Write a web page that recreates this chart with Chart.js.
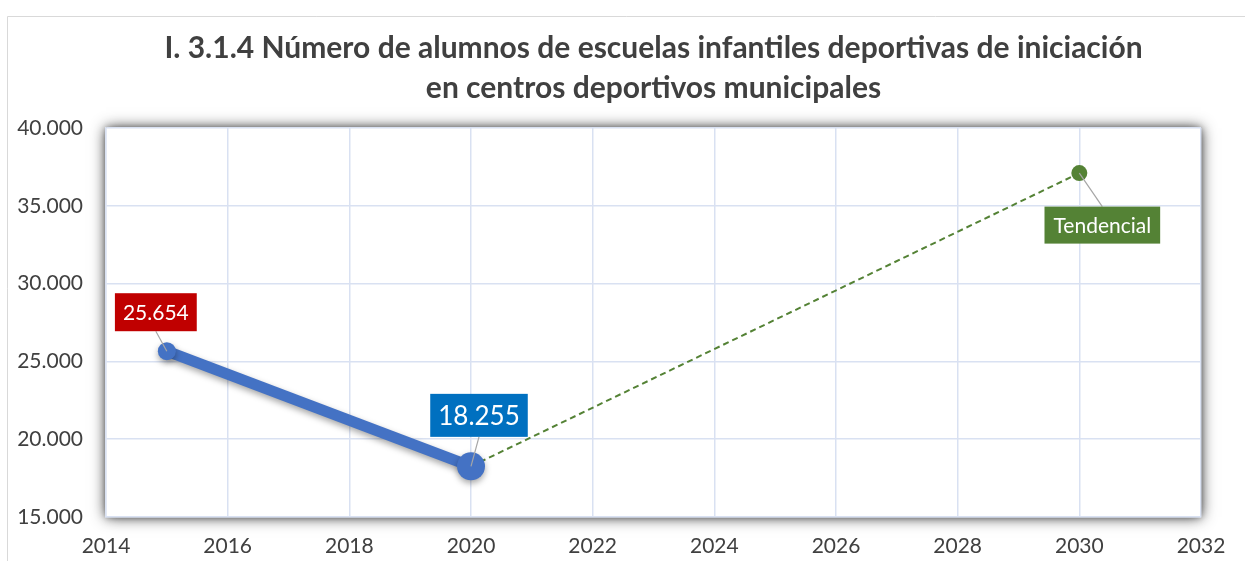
<!DOCTYPE html>
<html>
<head>
<meta charset="utf-8">
<script src="https://cdn.jsdelivr.net/npm/chart.js@4.4.1/dist/chart.umd.min.js"></script>
<style>
  html, body { margin: 0; padding: 0; background: #fff; }
</style>
</head>
<body>
<canvas id="chart" width="1245" height="561"></canvas>
<script>
// Data
const realYears = [2015, 2020];
const alumnos = [25654, 18255];
const trendYears = [2020, 2030];
const tendencia = [18255, 37100];
const trendName = 'Tendencial';
const titleLines = [
  'I. 3.1.4 Número de alumnos de escuelas infantiles deportivas de iniciación',
  'en centros deportivos municipales'
];
const xTicks = { min: 2014, max: 2032, step: 2 };
const yTicks = { min: 15000, max: 40000, step: 5000 };

const FONT = 'Lato, "Liberation Sans", sans-serif';
const TEXT = '#404040';
const GRID = '#D9E1F2';

const fmt = v => String(v).replace(/\B(?=(\d{3})+(?!\d))/g, '.');

// white plot area with a soft shadow + outer chart border
const plotFrame = {
  id: 'plotFrame',
  beforeDraw(chart) {
    const { ctx, chartArea: a } = chart;
    ctx.save();
    ctx.fillStyle = '#fff';
    ctx.fillRect(0, 0, chart.width, chart.height);
    ctx.strokeStyle = '#D9D9D9';
    ctx.lineWidth = 1;
    ctx.beginPath();
    ctx.moveTo(7.5, chart.height);
    ctx.lineTo(7.5, 16.5);
    ctx.lineTo(chart.width, 16.5);
    ctx.stroke();
    ctx.shadowColor = 'rgba(0,0,0,0.8)';
    ctx.shadowBlur = 14;
    ctx.fillRect(a.left, a.top, a.width, a.height);
    ctx.shadowColor = 'rgba(0,0,0,0.35)';
    ctx.shadowBlur = 6;
    ctx.fillRect(a.left, a.top, a.width, a.height);
    ctx.restore();
  }
};

// soft shadow under the blue line
const lineShadow = {
  id: 'lineShadow',
  beforeDatasetDraw(chart, args) {
    if (args.index !== 0) return;
    const ctx = chart.ctx;
    ctx.save();
    ctx.shadowColor = 'rgba(0,0,0,0.35)';
    ctx.shadowBlur = 6;
    ctx.shadowOffsetY = 3;
  },
  afterDatasetDraw(chart, args) {
    if (args.index !== 0) return;
    chart.ctx.restore();
  }
};

// boxed data labels with leader lines
const callouts = [
  { ds: 0, i: 0, text: fmt(alumnos[0]), bg: '#C00000', size: 21, dx: -11, dy: -39, h: 38, padX: 8 },
  { ds: 0, i: 1, text: fmt(alumnos[1]), bg: '#0070C0', size: 26, dx: 8, dy: -51, h: 43, padX: 8 },
  { ds: 1, i: 1, text: trendName, bg: '#548235', size: 21, dx: 23, dy: 52, h: 37, padX: 9 }
];
const dataCallouts = {
  id: 'dataCallouts',
  afterDatasetsDraw(chart) {
    const ctx = chart.ctx;
    callouts.forEach(c => {
      const pt = chart.getDatasetMeta(c.ds).data[c.i];
      ctx.save();
      ctx.font = `${c.size}px ${FONT}`;
      const w = ctx.measureText(c.text).width + c.padX * 2;
      const cx = pt.x + c.dx, cy = pt.y + c.dy;
      const edgeY = c.dy < 0 ? cy + c.h / 2 : cy - c.h / 2;
      ctx.strokeStyle = '#A6A6A6';
      ctx.lineWidth = 1.2;
      ctx.beginPath();
      ctx.moveTo(pt.x, pt.y);
      ctx.lineTo(cx, edgeY);
      ctx.stroke();
      ctx.fillStyle = c.bg;
      ctx.fillRect(cx - w / 2, cy - c.h / 2, w, c.h);
      ctx.fillStyle = '#fff';
      ctx.textAlign = 'center';
      ctx.textBaseline = 'middle';
      ctx.fillText(c.text, cx, cy + 1);
      ctx.restore();
    });
  }
};

const draw = () => {
  new Chart(document.getElementById('chart'), {
    type: 'line',
    data: {
      datasets: [
        {
          label: 'Alumnos',
          data: realYears.map((x, i) => ({ x, y: alumnos[i] })),
          borderColor: '#4472C4',
          backgroundColor: '#4472C4',
          borderWidth: 11,
          pointRadius: [9, 14],
          pointBorderWidth: 0,
          order: 1
        },
        {
          label: trendName,
          data: trendYears.map((x, i) => ({ x, y: tendencia[i] })),
          borderColor: '#548235',
          backgroundColor: '#548235',
          borderWidth: 2,
          borderDash: [6, 4],
          pointRadius: [0, 8],
          pointBorderWidth: 0,
          order: 2
        }
      ]
    },
    options: {
      responsive: false,
      animation: false,
      events: [],
      layout: { padding: { left: 0, right: 44, top: 0, bottom: 0 } },
      plugins: {
        legend: { display: false },
        tooltip: { enabled: false },
        title: {
          display: true,
          fullSize: false,
          text: titleLines,
          color: TEXT,
          font: { family: FONT, size: 30, weight: 'bold', lineHeight: 1.333 },
          padding: { top: 28, bottom: 20 }
        }
      },
      scales: {
        x: {
          type: 'linear',
          min: xTicks.min,
          max: xTicks.max,
          afterFit: s => { s.height = 44; },
          ticks: {
            stepSize: xTicks.step,
            color: TEXT,
            padding: 17,
            font: { family: FONT, size: 21 },
            callback: v => String(v)
          },
          grid: { color: GRID, lineWidth: 1.5, drawTicks: false },
          border: { display: true, color: GRID, width: 1.5 }
        },
        y: {
          min: yTicks.min,
          max: yTicks.max,
          afterFit: s => { s.width = 106; },
          ticks: {
            stepSize: yTicks.step,
            color: TEXT,
            padding: 23,
            font: { family: FONT, size: 21 },
            callback: v => fmt(v)
          },
          grid: { color: GRID, lineWidth: 1.5, drawTicks: false },
          border: { display: true, color: GRID, width: 1.5 }
        }
      }
    },
    plugins: [plotFrame, lineShadow, dataCallouts]
  });
};

document.fonts.load(`bold 30px ${FONT}`).then(draw, draw);
</script>
</body>
</html>
